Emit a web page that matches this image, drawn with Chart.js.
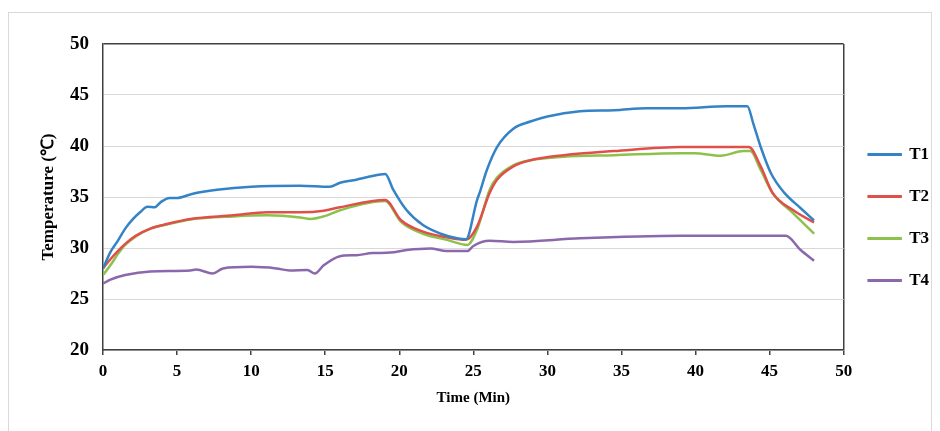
<!DOCTYPE html>
<html>
<head>
<meta charset="utf-8">
<script src="https://cdn.jsdelivr.net/npm/chart.js@4"></script>
<style>
  html, body { margin: 0; padding: 0; background: #fff; }
  #wrap { position: relative; width: 940px; height: 431px; }
  #frame { position: absolute; left: 8px; top: 12px; width: 924px; height: 430px; border: 1px solid #d9d9d9; box-sizing: border-box; }
  canvas { position: absolute; left: 0; top: 0; }
</style>
</head>
<body>
<div id="wrap">
  <div id="frame"></div>
  <canvas id="tempChart" width="940" height="431"></canvas>
</div>
<script>
// Readings (time in min, temperature in ℃)
const t1Time = [0, 0.5, 1, 1.5, 2, 2.5, 3, 3.5, 3.9, 4.5, 5, 6, 7.7, 10, 13.3, 15.3, 16, 17.1, 18, 19.05, 19.6, 20.5, 21.6, 22.8, 23.9, 24.5, 25.25, 25.47, 25.9, 26.6, 27.7, 28.85, 30, 32.2, 34.5, 36.7, 39, 42.1, 43.5, 43.9, 44.4, 45.1, 46, 47.1, 48];
const t1Temp = [28.0, 29.6, 30.7, 31.9, 32.8, 33.5, 34.05, 34.0, 34.5, 34.9, 34.9, 35.3, 35.7, 36.0, 36.1, 36.0, 36.4, 36.7, 37.0, 37.25, 35.7, 33.7, 32.25, 31.4, 30.95, 30.85, 34.7, 35.6, 37.6, 39.9, 41.7, 42.4, 42.9, 43.4, 43.5, 43.7, 43.7, 43.9, 43.9, 42.2, 39.9, 37.3, 35.4, 33.9, 32.7];

const t2Time = [0, 0.5, 1, 1.5, 2.2, 3.2, 4.3, 5.9, 8.8, 11.1, 13.3, 14.9, 16, 19.05, 20.1, 21.6, 23.2, 24.5, 25.25, 26.1, 26.6, 27.7, 28.85, 31.1, 34.5, 39, 43.6, 44.4, 45.2, 46.6, 48];
const t2Temp = [28.0, 28.9, 29.7, 30.4, 31.2, 31.9, 32.35, 32.85, 33.2, 33.5, 33.5, 33.65, 34.0, 34.7, 32.75, 31.6, 31.05, 30.8, 32.1, 35.4, 36.7, 38.0, 38.6, 39.1, 39.5, 39.9, 39.9, 38.0, 35.4, 33.7, 32.5];

const t3Time = [0, 0.5, 1, 1.5, 2.2, 3.2, 4.3, 5.9, 8.8, 11.1, 13.3, 14.0, 14.9, 16, 19.05, 20.1, 21.6, 23.2, 24.6, 25.25, 26.1, 26.6, 27.7, 28.85, 31.1, 34.5, 39, 39.9, 41.7, 43.25, 43.7, 44.4, 45.2, 46.6, 48];
const t3Temp = [27.35, 28.3, 29.4, 30.3, 31.1, 31.9, 32.3, 32.8, 33.1, 33.2, 33.0, 32.85, 33.1, 33.7, 34.6, 32.6, 31.4, 30.8, 30.3, 31.8, 35.7, 36.9, 38.1, 38.6, 38.95, 39.1, 39.3, 39.3, 39.05, 39.5, 39.5, 37.65, 35.4, 33.4, 31.4];

const t4Time = [0, 0.5, 1.5, 3.2, 5.9, 6.3, 7.4, 8.1, 10, 11.7, 12.6, 13.8, 14.3, 14.9, 16, 17.1, 18.2, 19.4, 20.5, 22.1, 23.2, 24.6, 25.0, 26.1, 27.7, 32.2, 39, 46.1, 47.1, 48];
const t4Temp = [26.5, 26.9, 27.35, 27.7, 27.8, 27.9, 27.5, 28.0, 28.15, 28.0, 27.8, 27.85, 27.5, 28.3, 29.2, 29.3, 29.5, 29.55, 29.8, 29.95, 29.7, 29.7, 30.2, 30.7, 30.6, 30.95, 31.2, 31.2, 29.8, 28.75];

const seriesNames = ['T1', 'T2', 'T3', 'T4'];
const seriesColors = ['#3483c6', '#e0504b', '#8cc24c', '#8b68ac'];
const xTicks = [0, 5, 10, 15, 20, 25, 30, 35, 40, 45, 50];
const yTicks = [20, 25, 30, 35, 40, 45, 50];

const toPoints = (xs, ys) => xs.map((x, i) => ({ x: x, y: ys[i] }));
const allTimes = [t1Time, t2Time, t3Time, t4Time];
const allTemps = [t1Temp, t2Temp, t3Temp, t4Temp];

const datasets = seriesNames.map((name, i) => ({
  label: name,
  data: toPoints(allTimes[i], allTemps[i]),
  borderColor: seriesColors[i],
  backgroundColor: seriesColors[i],
  borderWidth: 2.5,
  pointRadius: 0,
  cubicInterpolationMode: 'monotone',
  fill: false
}));

const serif = '"Liberation Serif", "Times New Roman", serif';
const dark = '#404040';

// the legend sits a little above the middle of the canvas in the original
const legendNudge = {
  id: 'legendNudge',
  afterLayout(chart) {
    chart.legend.top -= 20;
    chart.legend.bottom -= 20;
  }
};

new Chart(document.getElementById('tempChart'), {
  type: 'line',
  data: { datasets: datasets },
  plugins: [legendNudge],
  options: {
    responsive: false,
    animation: false,
    layout: { padding: { top: 44, left: 38, right: 1, bottom: 0 } },
    plugins: {
      tooltip: { enabled: false },
      legend: {
        position: 'right',
        labels: {
          color: '#000',
          font: { family: serif, size: 17, weight: 'bold' },
          boxWidth: 32,
          boxHeight: 0.5,
          padding: 25
        }
      }
    },
    scales: {
      x: {
        type: 'linear',
        min: 0,
        max: 50,
        afterBuildTicks: s => { s.ticks = xTicks.map(v => ({ value: v })); },
        afterFit: s => { s.height = 81; },
        border: { color: dark, width: 1.5 },
        grid: {
          drawOnChartArea: true,
          color: c => (c.tick && c.tick.value === 50 ? dark : 'rgba(0,0,0,0)'),
          lineWidth: 1.5,
          tickColor: dark,
          tickLength: 5
        },
        ticks: {
          color: '#000',
          padding: 6,
          maxRotation: 0,
          font: { family: serif, size: 17, weight: 'bold' }
        },
        title: {
          display: true,
          text: 'Time (Min)',
          color: '#000',
          padding: { top: 0, bottom: 24 },
          font: { family: serif, size: 15, weight: 'bold' }
        }
      },
      y: {
        min: 20,
        max: 50,
        afterBuildTicks: s => { s.ticks = yTicks.map(v => ({ value: v })); },
        afterFit: s => { s.width = 65; },
        border: { color: dark, width: 1.5 },
        grid: {
          color: c => (c.tick && c.tick.value === 50 ? dark : '#d9d9d9'),
          lineWidth: c => (c.tick && c.tick.value === 50 ? 1.5 : 1),
          drawTicks: false
        },
        ticks: {
          color: '#000',
          padding: 14,
          font: { family: serif, size: 19, weight: 'bold' }
        },
        title: {
          display: true,
          text: 'Temperature (℃)',
          color: '#000',
          padding: 0,
          font: { family: serif, size: 17, weight: 'bold' }
        }
      }
    }
  }
});
</script>
</body>
</html>
